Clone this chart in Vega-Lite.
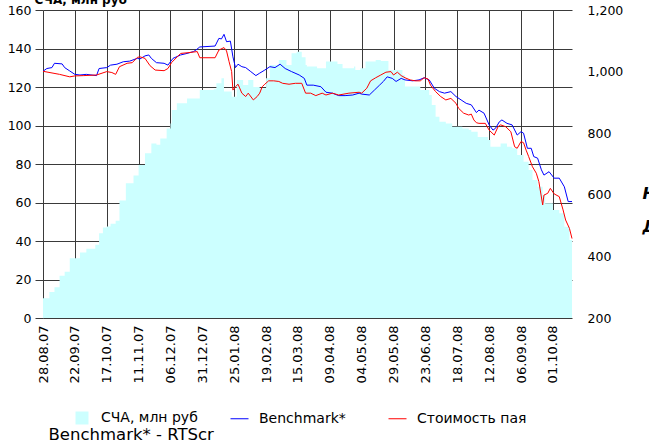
{
  "$schema": "https://vega.github.io/schema/vega-lite/v6.json",
  "width": 529,
  "height": 308,
  "autosize": {"type": "none"},
  "padding": {"left": 43, "top": 10, "right": 77, "bottom": 124},
  "background": "white",
  "config": {
    "font": "DejaVu Sans",
    "view": {"stroke": null},
    "axis": {"labelColor": "#000", "labelFont": "DejaVu Sans", "gridColor": "#3a3a3a", "gridOpacity": 1, "gridWidth": 1, "tickColor": "#3a3a3a"}
  },
  "layer": [
    {
      "data": {
        "values": [
          {"date": "2007-08-28", "nav": 10.2},
          {"date": "2007-09-02", "nav": 13.5},
          {"date": "2007-09-06", "nav": 16},
          {"date": "2007-09-10", "nav": 22},
          {"date": "2007-09-14", "nav": 24},
          {"date": "2007-09-18", "nav": 31},
          {"date": "2007-09-26", "nav": 34},
          {"date": "2007-10-01", "nav": 36},
          {"date": "2007-10-08", "nav": 38},
          {"date": "2007-10-11", "nav": 44},
          {"date": "2007-10-14", "nav": 47},
          {"date": "2007-10-17", "nav": 47.5},
          {"date": "2007-10-20", "nav": 49},
          {"date": "2007-10-24", "nav": 50.5},
          {"date": "2007-10-27", "nav": 61},
          {"date": "2007-11-01", "nav": 70},
          {"date": "2007-11-07", "nav": 74},
          {"date": "2007-11-11", "nav": 79.5},
          {"date": "2007-11-16", "nav": 85.6},
          {"date": "2007-11-21", "nav": 90.7},
          {"date": "2007-11-25", "nav": 90},
          {"date": "2007-11-28", "nav": 93.3},
          {"date": "2007-12-03", "nav": 98.5},
          {"date": "2007-12-06", "nav": 101},
          {"date": "2007-12-07", "nav": 108},
          {"date": "2007-12-11", "nav": 111.5},
          {"date": "2007-12-19", "nav": 114},
          {"date": "2007-12-29", "nav": 118.4},
          {"date": "2008-01-09", "nav": 118.8},
          {"date": "2008-01-11", "nav": 122},
          {"date": "2008-01-15", "nav": 124.5},
          {"date": "2008-01-17", "nav": 117.6},
          {"date": "2008-01-23", "nav": 115},
          {"date": "2008-01-27", "nav": 123.6},
          {"date": "2008-02-01", "nav": 121},
          {"date": "2008-02-05", "nav": 123.6},
          {"date": "2008-02-09", "nav": 120},
          {"date": "2008-02-14", "nav": 119.3},
          {"date": "2008-02-19", "nav": 124.5},
          {"date": "2008-02-22", "nav": 131.4},
          {"date": "2008-02-29", "nav": 134},
          {"date": "2008-03-06", "nav": 131.4},
          {"date": "2008-03-10", "nav": 137.5},
          {"date": "2008-03-14", "nav": 138.3},
          {"date": "2008-03-18", "nav": 135.5},
          {"date": "2008-03-21", "nav": 131.4},
          {"date": "2008-03-22", "nav": 130.6},
          {"date": "2008-03-30", "nav": 129.7},
          {"date": "2008-04-06", "nav": 133.2},
          {"date": "2008-04-08", "nav": 133.2},
          {"date": "2008-04-15", "nav": 132},
          {"date": "2008-04-19", "nav": 129.7},
          {"date": "2008-04-28", "nav": 130.6},
          {"date": "2008-04-29", "nav": 128.8},
          {"date": "2008-05-03", "nav": 129.7},
          {"date": "2008-05-07", "nav": 133.2},
          {"date": "2008-05-15", "nav": 134},
          {"date": "2008-05-19", "nav": 133.5},
          {"date": "2008-05-25", "nav": 128.8},
          {"date": "2008-06-05", "nav": 126.2},
          {"date": "2008-06-07", "nav": 120.2},
          {"date": "2008-06-19", "nav": 118.4},
          {"date": "2008-06-26", "nav": 115.8},
          {"date": "2008-06-28", "nav": 110.6},
          {"date": "2008-07-01", "nav": 104.6},
          {"date": "2008-07-04", "nav": 102},
          {"date": "2008-07-09", "nav": 101.1},
          {"date": "2008-07-14", "nav": 99.4},
          {"date": "2008-07-22", "nav": 98.5},
          {"date": "2008-07-27", "nav": 97.7},
          {"date": "2008-07-29", "nav": 96.8},
          {"date": "2008-08-03", "nav": 94},
          {"date": "2008-08-11", "nav": 92.5},
          {"date": "2008-08-13", "nav": 89},
          {"date": "2008-08-21", "nav": 90.7},
          {"date": "2008-08-26", "nav": 89},
          {"date": "2008-08-30", "nav": 88.2},
          {"date": "2008-09-03", "nav": 84.7},
          {"date": "2008-09-08", "nav": 81.2},
          {"date": "2008-09-12", "nav": 76.9},
          {"date": "2008-09-15", "nav": 71.7},
          {"date": "2008-09-19", "nav": 68.2},
          {"date": "2008-09-23", "nav": 63.9},
          {"date": "2008-09-25", "nav": 59.6},
          {"date": "2008-10-01", "nav": 56.1},
          {"date": "2008-10-06", "nav": 54.4},
          {"date": "2008-10-10", "nav": 47.4},
          {"date": "2008-10-14", "nav": 40.5},
          {"date": "2008-10-16", "nav": 38}
        ],
        "format": {"parse": {"date": "date:'%Y-%m-%d'"}}
      },
      "mark": {"type": "area", "interpolate": "step-after", "opacity": 1},
      "encoding": {
        "x": {
          "field": "date",
          "type": "temporal",
          "scale": {"domain": [{"year": 2007, "month": 8, "date": 28}, {"year": 2008, "month": 10, "date": 16}], "nice": false},
          "axis": {
            "values": [
              {"year": 2007, "month": 8, "date": 28},
              {"year": 2007, "month": 9, "date": 22},
              {"year": 2007, "month": 10, "date": 17},
              {"year": 2007, "month": 11, "date": 11},
              {"year": 2007, "month": 12, "date": 6},
              {"year": 2007, "month": 12, "date": 31},
              {"year": 2008, "month": 1, "date": 25},
              {"year": 2008, "month": 2, "date": 19},
              {"year": 2008, "month": 3, "date": 15},
              {"year": 2008, "month": 4, "date": 9},
              {"year": 2008, "month": 5, "date": 4},
              {"year": 2008, "month": 5, "date": 29},
              {"year": 2008, "month": 6, "date": 23},
              {"year": 2008, "month": 7, "date": 18},
              {"year": 2008, "month": 8, "date": 12},
              {"year": 2008, "month": 9, "date": 6},
              {"year": 2008, "month": 10, "date": 1}
            ],
            "tickCount": 40,
            "format": "%d.%m.%y",
            "labelAngle": 270,
            "labelFontSize": 13,
            "labelPadding": 7,
            "labelOverlap": false,
            "labelFlush": false,
            "labelBound": false,
            "ticks": false,
            "domain": false,
            "grid": true,
            "title": "Benchmark* - RTScr",
            "titleFont": "DejaVu Sans",
            "titleFontSize": 16.5,
            "titleFontWeight": "normal",
            "titleColor": "#000",
            "titleAlign": "left",
            "titleAnchor": "start",
            "titleBaseline": "alphabetic",
            "titleX": 5,
            "titleY": 121
          }
        },
        "y": {
          "field": "nav",
          "type": "quantitative",
          "scale": {"domain": [0, 160], "nice": false},
          "axis": {
            "orient": "left",
            "values": [0, 20, 40, 60, 80, 100, 120, 140, 160],
            "tickCount": 20,
            "labelFontSize": 12.5,
            "labelPadding": 4,
            "tickSize": 8,
            "grid": true,
            "domain": false,
            "title": "СЧА, млн руб",
            "titleAngle": 0,
            "titleFont": "DejaVu Sans",
            "titleFontSize": 12,
            "titleFontWeight": "bold",
            "titleColor": "#000",
            "titleAlign": "left",
            "titleAnchor": "start",
            "titleBaseline": "alphabetic",
            "titleX": -9,
            "titleY": -6.5
          }
        },
        "fill": {
          "datum": "СЧА, млн руб",
          "type": "nominal",
          "scale": {"domain": ["СЧА, млн руб"], "range": ["#ccffff"]},
          "legend": {
            "orient": "none",
            "legendX": 32,
            "legendY": 401,
            "title": null,
            "padding": 0,
            "symbolType": "square",
            "symbolSize": 169,
            "symbolStrokeWidth": 0,
            "labelFontSize": 14,
            "labelColor": "#000",
            "labelOffset": 12
          }
        }
      }
    },
    {
      "data": {
        "values": [
          {"date": "2007-08-28", "series": "Benchmark*", "value": 1001},
          {"date": "2007-08-31", "series": "Benchmark*", "value": 1010},
          {"date": "2007-09-04", "series": "Benchmark*", "value": 1013},
          {"date": "2007-09-06", "series": "Benchmark*", "value": 1027},
          {"date": "2007-09-12", "series": "Benchmark*", "value": 1025},
          {"date": "2007-09-14", "series": "Benchmark*", "value": 1013},
          {"date": "2007-09-18", "series": "Benchmark*", "value": 1002},
          {"date": "2007-09-22", "series": "Benchmark*", "value": 991},
          {"date": "2007-09-26", "series": "Benchmark*", "value": 989},
          {"date": "2007-10-01", "series": "Benchmark*", "value": 991},
          {"date": "2007-10-09", "series": "Benchmark*", "value": 987},
          {"date": "2007-10-11", "series": "Benchmark*", "value": 1010},
          {"date": "2007-10-17", "series": "Benchmark*", "value": 1013},
          {"date": "2007-10-20", "series": "Benchmark*", "value": 1021},
          {"date": "2007-10-25", "series": "Benchmark*", "value": 1024},
          {"date": "2007-10-30", "series": "Benchmark*", "value": 1032},
          {"date": "2007-11-04", "series": "Benchmark*", "value": 1034},
          {"date": "2007-11-10", "series": "Benchmark*", "value": 1043},
          {"date": "2007-11-12", "series": "Benchmark*", "value": 1041},
          {"date": "2007-11-16", "series": "Benchmark*", "value": 1051},
          {"date": "2007-11-19", "series": "Benchmark*", "value": 1054},
          {"date": "2007-11-21", "series": "Benchmark*", "value": 1043},
          {"date": "2007-11-25", "series": "Benchmark*", "value": 1029},
          {"date": "2007-12-01", "series": "Benchmark*", "value": 1027},
          {"date": "2007-12-04", "series": "Benchmark*", "value": 1021},
          {"date": "2007-12-08", "series": "Benchmark*", "value": 1043},
          {"date": "2007-12-14", "series": "Benchmark*", "value": 1054},
          {"date": "2007-12-19", "series": "Benchmark*", "value": 1059},
          {"date": "2007-12-24", "series": "Benchmark*", "value": 1065},
          {"date": "2007-12-26", "series": "Benchmark*", "value": 1070},
          {"date": "2007-12-29", "series": "Benchmark*", "value": 1080},
          {"date": "2008-01-10", "series": "Benchmark*", "value": 1083},
          {"date": "2008-01-13", "series": "Benchmark*", "value": 1108},
          {"date": "2008-01-15", "series": "Benchmark*", "value": 1106},
          {"date": "2008-01-17", "series": "Benchmark*", "value": 1121},
          {"date": "2008-01-19", "series": "Benchmark*", "value": 1097},
          {"date": "2008-01-22", "series": "Benchmark*", "value": 1099},
          {"date": "2008-01-24", "series": "Benchmark*", "value": 1048},
          {"date": "2008-01-26", "series": "Benchmark*", "value": 1013},
          {"date": "2008-01-28", "series": "Benchmark*", "value": 1024},
          {"date": "2008-01-31", "series": "Benchmark*", "value": 1016},
          {"date": "2008-02-03", "series": "Benchmark*", "value": 1013},
          {"date": "2008-02-07", "series": "Benchmark*", "value": 1000},
          {"date": "2008-02-11", "series": "Benchmark*", "value": 987},
          {"date": "2008-02-14", "series": "Benchmark*", "value": 995},
          {"date": "2008-02-18", "series": "Benchmark*", "value": 1005},
          {"date": "2008-02-22", "series": "Benchmark*", "value": 1016},
          {"date": "2008-02-26", "series": "Benchmark*", "value": 1013},
          {"date": "2008-03-01", "series": "Benchmark*", "value": 1024},
          {"date": "2008-03-05", "series": "Benchmark*", "value": 1010},
          {"date": "2008-03-10", "series": "Benchmark*", "value": 1000},
          {"date": "2008-03-16", "series": "Benchmark*", "value": 989},
          {"date": "2008-03-20", "series": "Benchmark*", "value": 978},
          {"date": "2008-03-22", "series": "Benchmark*", "value": 956},
          {"date": "2008-03-27", "series": "Benchmark*", "value": 956},
          {"date": "2008-04-02", "series": "Benchmark*", "value": 951},
          {"date": "2008-04-06", "series": "Benchmark*", "value": 933},
          {"date": "2008-04-11", "series": "Benchmark*", "value": 930},
          {"date": "2008-04-16", "series": "Benchmark*", "value": 922},
          {"date": "2008-04-21", "series": "Benchmark*", "value": 922},
          {"date": "2008-04-27", "series": "Benchmark*", "value": 924},
          {"date": "2008-05-02", "series": "Benchmark*", "value": 930},
          {"date": "2008-05-04", "series": "Benchmark*", "value": 927},
          {"date": "2008-05-10", "series": "Benchmark*", "value": 924},
          {"date": "2008-05-14", "series": "Benchmark*", "value": 940},
          {"date": "2008-05-18", "series": "Benchmark*", "value": 956},
          {"date": "2008-05-21", "series": "Benchmark*", "value": 968},
          {"date": "2008-05-24", "series": "Benchmark*", "value": 983},
          {"date": "2008-05-28", "series": "Benchmark*", "value": 978},
          {"date": "2008-05-31", "series": "Benchmark*", "value": 968},
          {"date": "2008-06-04", "series": "Benchmark*", "value": 978},
          {"date": "2008-06-07", "series": "Benchmark*", "value": 973},
          {"date": "2008-06-13", "series": "Benchmark*", "value": 970},
          {"date": "2008-06-18", "series": "Benchmark*", "value": 973},
          {"date": "2008-06-22", "series": "Benchmark*", "value": 980},
          {"date": "2008-06-26", "series": "Benchmark*", "value": 973},
          {"date": "2008-06-30", "series": "Benchmark*", "value": 946},
          {"date": "2008-07-04", "series": "Benchmark*", "value": 935},
          {"date": "2008-07-08", "series": "Benchmark*", "value": 930},
          {"date": "2008-07-13", "series": "Benchmark*", "value": 935},
          {"date": "2008-07-17", "series": "Benchmark*", "value": 919},
          {"date": "2008-07-21", "series": "Benchmark*", "value": 908},
          {"date": "2008-07-25", "series": "Benchmark*", "value": 897},
          {"date": "2008-07-29", "series": "Benchmark*", "value": 892},
          {"date": "2008-08-02", "series": "Benchmark*", "value": 867},
          {"date": "2008-08-04", "series": "Benchmark*", "value": 875},
          {"date": "2008-08-08", "series": "Benchmark*", "value": 865},
          {"date": "2008-08-12", "series": "Benchmark*", "value": 827},
          {"date": "2008-08-15", "series": "Benchmark*", "value": 810},
          {"date": "2008-08-17", "series": "Benchmark*", "value": 816},
          {"date": "2008-08-20", "series": "Benchmark*", "value": 837},
          {"date": "2008-08-22", "series": "Benchmark*", "value": 843},
          {"date": "2008-08-26", "series": "Benchmark*", "value": 832},
          {"date": "2008-08-30", "series": "Benchmark*", "value": 827},
          {"date": "2008-09-03", "series": "Benchmark*", "value": 794},
          {"date": "2008-09-06", "series": "Benchmark*", "value": 805},
          {"date": "2008-09-08", "series": "Benchmark*", "value": 800},
          {"date": "2008-09-11", "series": "Benchmark*", "value": 751},
          {"date": "2008-09-14", "series": "Benchmark*", "value": 751},
          {"date": "2008-09-16", "series": "Benchmark*", "value": 724},
          {"date": "2008-09-19", "series": "Benchmark*", "value": 719},
          {"date": "2008-09-22", "series": "Benchmark*", "value": 681},
          {"date": "2008-09-24", "series": "Benchmark*", "value": 664},
          {"date": "2008-09-28", "series": "Benchmark*", "value": 675},
          {"date": "2008-10-02", "series": "Benchmark*", "value": 654},
          {"date": "2008-10-06", "series": "Benchmark*", "value": 654},
          {"date": "2008-10-10", "series": "Benchmark*", "value": 626},
          {"date": "2008-10-13", "series": "Benchmark*", "value": 578},
          {"date": "2008-10-16", "series": "Benchmark*", "value": 578},
          {"date": "2007-08-28", "series": "Стоимость пая", "value": 1001},
          {"date": "2007-09-10", "series": "Стоимость пая", "value": 991},
          {"date": "2007-09-18", "series": "Стоимость пая", "value": 983},
          {"date": "2007-09-22", "series": "Стоимость пая", "value": 986},
          {"date": "2007-09-29", "series": "Стоимость пая", "value": 987},
          {"date": "2007-10-09", "series": "Стоимость пая", "value": 989},
          {"date": "2007-10-17", "series": "Стоимость пая", "value": 1000},
          {"date": "2007-10-21", "series": "Стоимость пая", "value": 997},
          {"date": "2007-10-24", "series": "Стоимость пая", "value": 991},
          {"date": "2007-10-27", "series": "Стоимость пая", "value": 1016},
          {"date": "2007-11-02", "series": "Стоимость пая", "value": 1027},
          {"date": "2007-11-06", "series": "Стоимость пая", "value": 1029},
          {"date": "2007-11-10", "series": "Стоимость пая", "value": 1046},
          {"date": "2007-11-12", "series": "Стоимость пая", "value": 1048},
          {"date": "2007-11-16", "series": "Стоимость пая", "value": 1043},
          {"date": "2007-11-20", "series": "Стоимость пая", "value": 1019},
          {"date": "2007-11-24", "series": "Стоимость пая", "value": 1005},
          {"date": "2007-12-01", "series": "Стоимость пая", "value": 1003},
          {"date": "2007-12-04", "series": "Стоимость пая", "value": 1010},
          {"date": "2007-12-07", "series": "Стоимость пая", "value": 1030},
          {"date": "2007-12-14", "series": "Стоимость пая", "value": 1059},
          {"date": "2007-12-19", "series": "Стоимость пая", "value": 1061},
          {"date": "2007-12-27", "series": "Стоимость пая", "value": 1065},
          {"date": "2007-12-29", "series": "Стоимость пая", "value": 1045},
          {"date": "2008-01-10", "series": "Стоимость пая", "value": 1045},
          {"date": "2008-01-13", "series": "Стоимость пая", "value": 1070},
          {"date": "2008-01-17", "series": "Стоимость пая", "value": 1078},
          {"date": "2008-01-19", "series": "Стоимость пая", "value": 1067},
          {"date": "2008-01-21", "series": "Стоимость пая", "value": 1032},
          {"date": "2008-01-23", "series": "Стоимость пая", "value": 1000},
          {"date": "2008-01-24", "series": "Стоимость пая", "value": 940},
          {"date": "2008-01-26", "series": "Стоимость пая", "value": 951},
          {"date": "2008-01-28", "series": "Стоимость пая", "value": 959},
          {"date": "2008-01-31", "series": "Стоимость пая", "value": 930},
          {"date": "2008-02-03", "series": "Стоимость пая", "value": 919},
          {"date": "2008-02-05", "series": "Стоимость пая", "value": 930},
          {"date": "2008-02-09", "series": "Стоимость пая", "value": 908},
          {"date": "2008-02-12", "series": "Стоимость пая", "value": 919},
          {"date": "2008-02-14", "series": "Стоимость пая", "value": 930},
          {"date": "2008-02-16", "series": "Стоимость пая", "value": 951},
          {"date": "2008-02-18", "series": "Стоимость пая", "value": 959},
          {"date": "2008-02-21", "series": "Стоимость пая", "value": 970},
          {"date": "2008-02-25", "series": "Стоимость пая", "value": 970},
          {"date": "2008-02-29", "series": "Стоимость пая", "value": 968},
          {"date": "2008-03-03", "series": "Стоимость пая", "value": 962},
          {"date": "2008-03-08", "series": "Стоимость пая", "value": 959},
          {"date": "2008-03-13", "series": "Стоимость пая", "value": 962},
          {"date": "2008-03-18", "series": "Стоимость пая", "value": 962},
          {"date": "2008-03-21", "series": "Стоимость пая", "value": 930},
          {"date": "2008-03-25", "series": "Стоимость пая", "value": 930},
          {"date": "2008-03-29", "series": "Стоимость пая", "value": 922},
          {"date": "2008-04-03", "series": "Стоимость пая", "value": 930},
          {"date": "2008-04-06", "series": "Стоимость пая", "value": 924},
          {"date": "2008-04-11", "series": "Стоимость пая", "value": 930},
          {"date": "2008-04-16", "series": "Стоимость пая", "value": 924},
          {"date": "2008-04-24", "series": "Стоимость пая", "value": 930},
          {"date": "2008-05-02", "series": "Стоимость пая", "value": 933},
          {"date": "2008-05-04", "series": "Стоимость пая", "value": 930},
          {"date": "2008-05-08", "series": "Стоимость пая", "value": 946},
          {"date": "2008-05-11", "series": "Стоимость пая", "value": 970},
          {"date": "2008-05-15", "series": "Стоимость пая", "value": 980},
          {"date": "2008-05-19", "series": "Стоимость пая", "value": 989},
          {"date": "2008-05-23", "series": "Стоимость пая", "value": 998},
          {"date": "2008-05-27", "series": "Стоимость пая", "value": 1000},
          {"date": "2008-05-29", "series": "Стоимость пая", "value": 989},
          {"date": "2008-06-01", "series": "Стоимость пая", "value": 998},
          {"date": "2008-06-04", "series": "Стоимость пая", "value": 987},
          {"date": "2008-06-07", "series": "Стоимость пая", "value": 980},
          {"date": "2008-06-11", "series": "Стоимость пая", "value": 973},
          {"date": "2008-06-15", "series": "Стоимость пая", "value": 970},
          {"date": "2008-06-19", "series": "Стоимость пая", "value": 970},
          {"date": "2008-06-22", "series": "Стоимость пая", "value": 980},
          {"date": "2008-06-25", "series": "Стоимость пая", "value": 976},
          {"date": "2008-06-27", "series": "Стоимость пая", "value": 956},
          {"date": "2008-07-01", "series": "Стоимость пая", "value": 935},
          {"date": "2008-07-05", "series": "Стоимость пая", "value": 919},
          {"date": "2008-07-09", "series": "Стоимость пая", "value": 908},
          {"date": "2008-07-13", "series": "Стоимость пая", "value": 913},
          {"date": "2008-07-17", "series": "Стоимость пая", "value": 897},
          {"date": "2008-07-19", "series": "Стоимость пая", "value": 881},
          {"date": "2008-07-23", "series": "Стоимость пая", "value": 865},
          {"date": "2008-07-27", "series": "Стоимость пая", "value": 859},
          {"date": "2008-07-29", "series": "Стоимость пая", "value": 862},
          {"date": "2008-07-31", "series": "Стоимость пая", "value": 843},
          {"date": "2008-08-02", "series": "Стоимость пая", "value": 834},
          {"date": "2008-08-04", "series": "Стоимость пая", "value": 832},
          {"date": "2008-08-09", "series": "Стоимость пая", "value": 832},
          {"date": "2008-08-12", "series": "Стоимость пая", "value": 810},
          {"date": "2008-08-16", "series": "Стоимость пая", "value": 794},
          {"date": "2008-08-19", "series": "Стоимость пая", "value": 821},
          {"date": "2008-08-21", "series": "Стоимость пая", "value": 827},
          {"date": "2008-08-25", "series": "Стоимость пая", "value": 821},
          {"date": "2008-08-29", "series": "Стоимость пая", "value": 805},
          {"date": "2008-09-01", "series": "Стоимость пая", "value": 756},
          {"date": "2008-09-03", "series": "Стоимость пая", "value": 751},
          {"date": "2008-09-06", "series": "Стоимость пая", "value": 773},
          {"date": "2008-09-08", "series": "Стоимость пая", "value": 769},
          {"date": "2008-09-10", "series": "Стоимость пая", "value": 745},
          {"date": "2008-09-12", "series": "Стоимость пая", "value": 724},
          {"date": "2008-09-15", "series": "Стоимость пая", "value": 691},
          {"date": "2008-09-18", "series": "Стоимость пая", "value": 670},
          {"date": "2008-09-20", "series": "Стоимость пая", "value": 643},
          {"date": "2008-09-23", "series": "Стоимость пая", "value": 567},
          {"date": "2008-09-24", "series": "Стоимость пая", "value": 599},
          {"date": "2008-09-27", "series": "Стоимость пая", "value": 605},
          {"date": "2008-09-29", "series": "Стоимость пая", "value": 621},
          {"date": "2008-10-02", "series": "Стоимость пая", "value": 603},
          {"date": "2008-10-06", "series": "Стоимость пая", "value": 594},
          {"date": "2008-10-09", "series": "Стоимость пая", "value": 551},
          {"date": "2008-10-11", "series": "Стоимость пая", "value": 518},
          {"date": "2008-10-14", "series": "Стоимость пая", "value": 491},
          {"date": "2008-10-16", "series": "Стоимость пая", "value": 458}
        ],
        "format": {"parse": {"date": "date:'%Y-%m-%d'"}}
      },
      "mark": {"type": "line", "strokeWidth": 1, "interpolate": "linear"},
      "encoding": {
        "x": {"field": "date", "type": "temporal"},
        "y": {
          "field": "value",
          "type": "quantitative",
          "scale": {"domain": [200, 1200], "nice": false},
          "axis": {
            "orient": "right",
            "values": [200, 400, 600, 800, 1000, 1200],
            "tickCount": 20,
            "format": ",d",
            "labelFontSize": 12.5,
            "labelPadding": 15,
            "ticks": false,
            "grid": false,
            "domain": false,
            "title": ["Н", "Д"],
            "titleAngle": 0,
            "titleFont": "DejaVu Sans",
            "titleFontSize": 16,
            "titleFontWeight": "bold",
            "titleFontStyle": "italic",
            "titleColor": "#000",
            "titleAlign": "left",
            "titleBaseline": "alphabetic",
            "titleLineHeight": 33,
            "titleX": 70,
            "titleY": 188
          }
        },
        "stroke": {
          "field": "series",
          "type": "nominal",
          "scale": {"domain": ["Benchmark*", "Стоимость пая"], "range": ["#0000ff", "#ff0000"]},
          "legend": {
            "orient": "none",
            "legendX": 187,
            "legendY": 399,
            "direction": "horizontal",
            "columns": 2,
            "columnPadding": 40,
            "title": null,
            "padding": 0,
            "symbolType": "stroke",
            "symbolSize": 324,
            "symbolStrokeWidth": 1,
            "labelFontSize": 14,
            "labelColor": "#000",
            "labelOffset": 10
          }
        }
      }
    }
  ],
  "resolve": {"scale": {"y": "independent"}}
}
